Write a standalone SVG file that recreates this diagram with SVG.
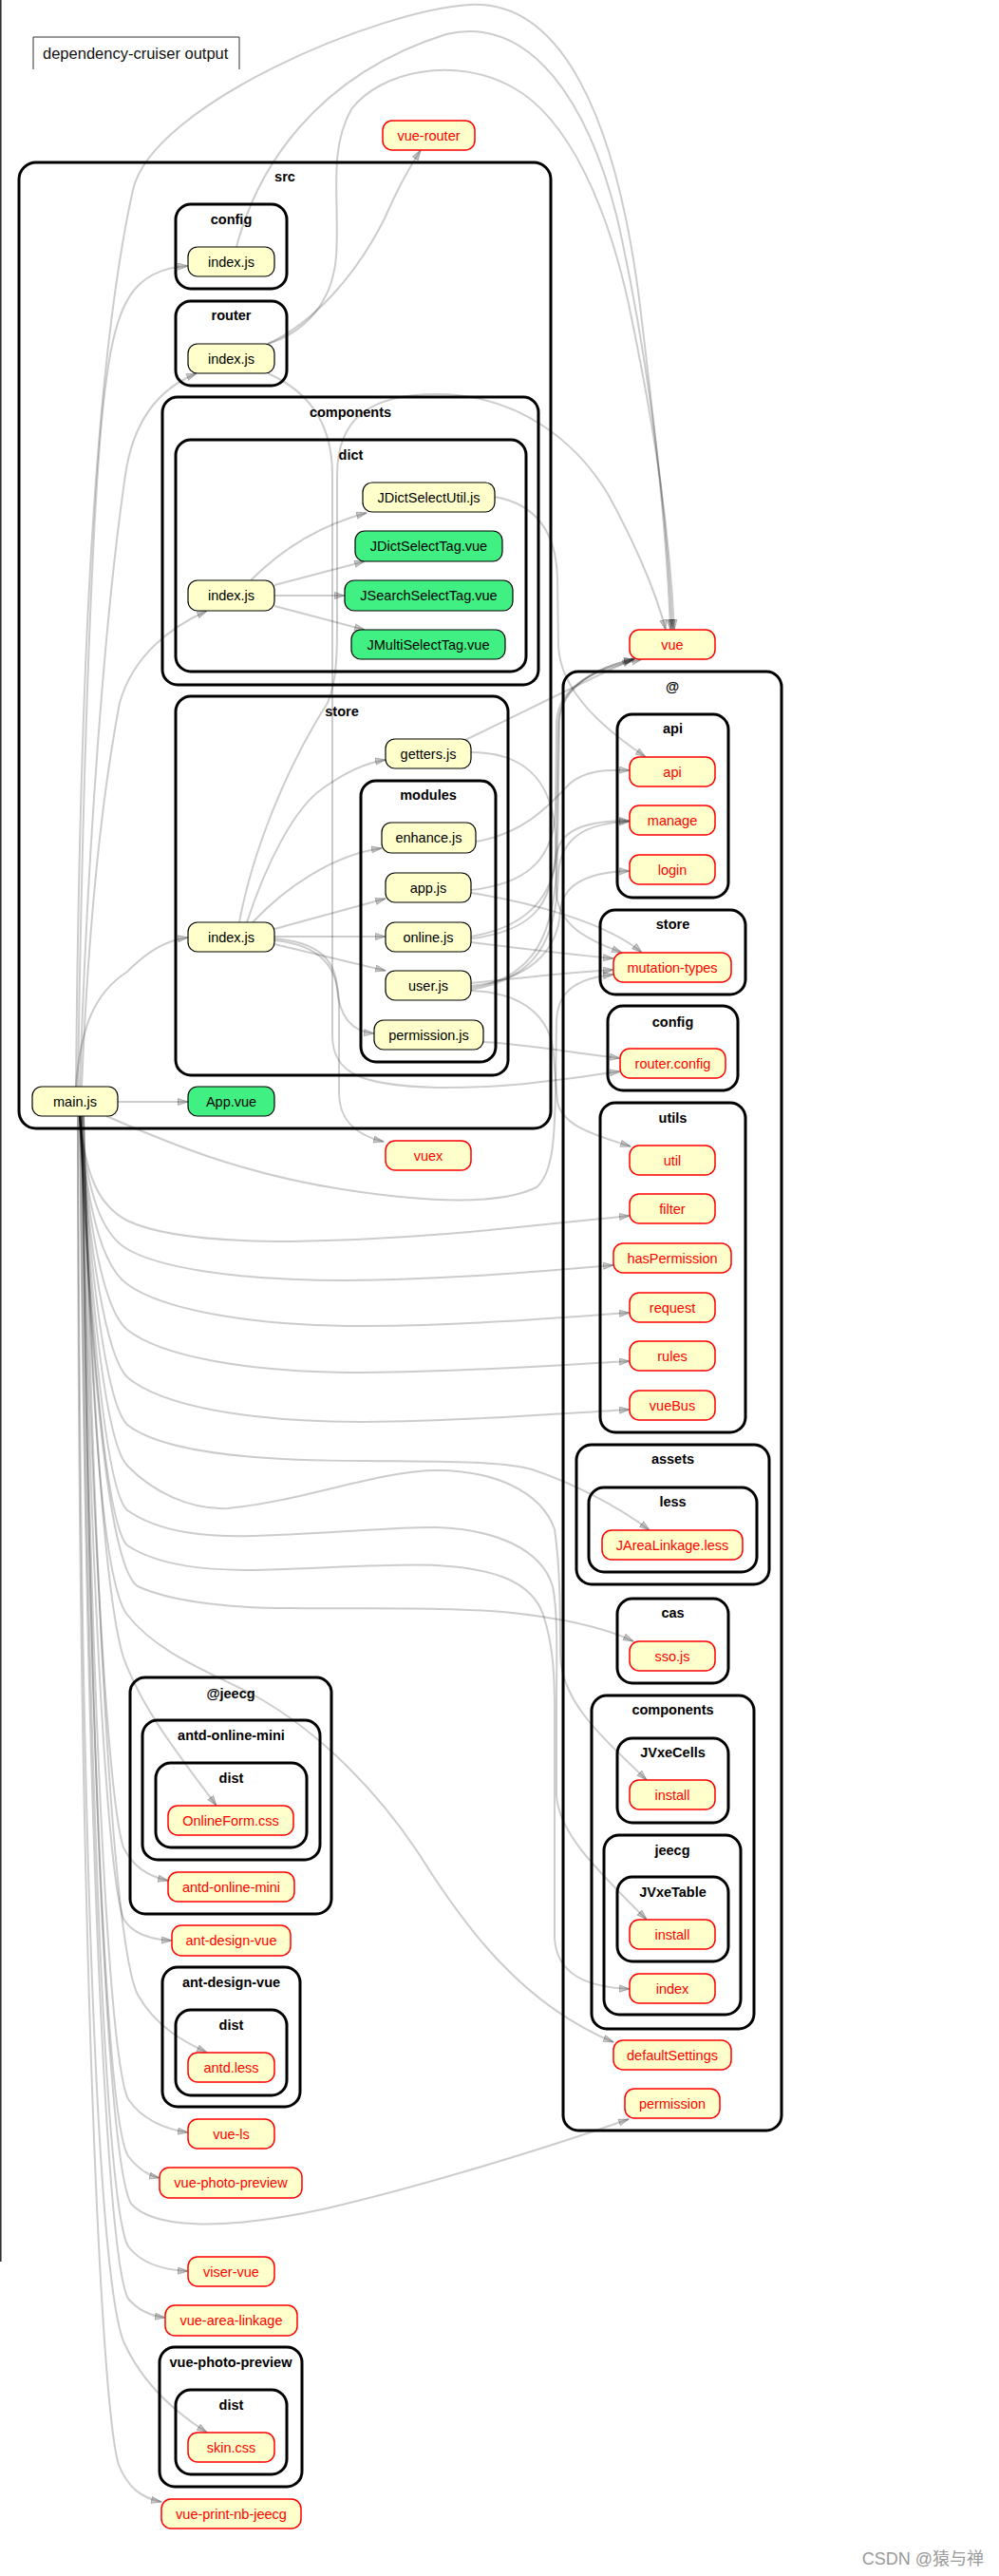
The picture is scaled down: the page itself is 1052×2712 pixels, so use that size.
<svg xmlns="http://www.w3.org/2000/svg" width="1052" height="2712" viewBox="0 0 1052 2712">
<defs>
<style>
.cl rect{fill:none;stroke:#000;stroke-width:3}
.cl text{font-family:"Liberation Sans",Arial,sans-serif;font-weight:bold;font-size:14.5px;text-anchor:middle;fill:#000}
.nd rect{fill:#ffffcc;stroke:#000;stroke-width:1.2}
.nd text{font-family:"Liberation Sans",Arial,sans-serif;font-size:14.5px;text-anchor:middle;fill:#000}
.nd.g rect{fill:#41f083}
.nd.x rect{stroke:#ff0000;stroke-width:1.5}
.nd.x text{fill:#ff0000}
#edges path{fill:none;stroke:#000;stroke-opacity:0.2;stroke-width:2;marker-end:url(#ah)}
</style>
<marker id="ah" markerWidth="12" markerHeight="9" refX="11" refY="4" orient="auto" markerUnits="userSpaceOnUse">
<path d="M0.5,0.5 L11,4 L0.5,7.5 z" fill="#000" fill-opacity="0.2" stroke="#000" stroke-opacity="0.25" stroke-width="1"/>
</marker>
</defs>
<rect x="0" y="0" width="1052" height="2712" fill="#ffffff"/>
<rect x="0" y="0" width="1.6" height="2381" fill="#333333"/>
<g id="title">
<path d="M35,73 V39 H252 V73" fill="none" stroke="#333" stroke-width="1"/>
<text x="45" y="62" font-family="'Liberation Sans',Arial,sans-serif" font-size="16.5" fill="#111">dependency-cruiser output</text>
</g>
<g id="clusters">
<g id="cluster-src" class="cl"><rect x="20" y="171" width="560" height="1017" rx="18"/><text x="300" y="191">src</text></g>
<g id="cluster-src-config" class="cl"><rect x="185" y="215" width="117" height="89" rx="16"/><text x="243.5" y="236">config</text></g>
<g id="cluster-src-router" class="cl"><rect x="185" y="317" width="117" height="89" rx="16"/><text x="243.5" y="337">router</text></g>
<g id="cluster-src-components" class="cl"><rect x="171" y="418" width="396" height="303" rx="16"/><text x="369" y="439">components</text></g>
<g id="cluster-src-components-dict" class="cl"><rect x="185" y="463" width="369" height="244" rx="16"/><text x="369.5" y="484">dict</text></g>
<g id="cluster-src-store" class="cl"><rect x="185" y="733" width="350" height="399" rx="16"/><text x="360" y="754">store</text></g>
<g id="cluster-src-store-modules" class="cl"><rect x="380" y="822" width="142" height="296" rx="16"/><text x="451" y="842">modules</text></g>
<g id="cluster-at" class="cl"><rect x="593" y="707" width="230" height="1536" rx="16"/><text x="708" y="728">@</text></g>
<g id="cluster-at-api" class="cl"><rect x="650" y="752" width="117" height="193" rx="16"/><text x="708.5" y="772">api</text></g>
<g id="cluster-at-store" class="cl"><rect x="632" y="958" width="153" height="89" rx="16"/><text x="708.5" y="978">store</text></g>
<g id="cluster-at-config" class="cl"><rect x="640" y="1059" width="137" height="89" rx="16"/><text x="708.5" y="1081">config</text></g>
<g id="cluster-at-utils" class="cl"><rect x="632" y="1161" width="153" height="347" rx="16"/><text x="708.5" y="1182">utils</text></g>
<g id="cluster-at-assets" class="cl"><rect x="607" y="1521" width="203" height="147" rx="16"/><text x="708.5" y="1541">assets</text></g>
<g id="cluster-at-assets-less" class="cl"><rect x="620" y="1566" width="177" height="89" rx="16"/><text x="708.5" y="1586">less</text></g>
<g id="cluster-at-cas" class="cl"><rect x="650" y="1683" width="117" height="89" rx="16"/><text x="708.5" y="1703">cas</text></g>
<g id="cluster-at-components" class="cl"><rect x="623" y="1785" width="171" height="351" rx="16"/><text x="708.5" y="1805">components</text></g>
<g id="cluster-at-components-JVxeCells" class="cl"><rect x="650" y="1830" width="117" height="89" rx="16"/><text x="708.5" y="1850">JVxeCells</text></g>
<g id="cluster-at-components-jeecg" class="cl"><rect x="636" y="1932" width="144" height="189" rx="16"/><text x="708" y="1953">jeecg</text></g>
<g id="cluster-at-components-jeecg-JVxeTable" class="cl"><rect x="650" y="1976" width="117" height="89" rx="16"/><text x="708.5" y="1997">JVxeTable</text></g>
<g id="cluster-atjeecg" class="cl"><rect x="137" y="1766" width="212" height="249" rx="16"/><text x="243" y="1788">@jeecg</text></g>
<g id="cluster-atjeecg-aom" class="cl"><rect x="150" y="1811" width="187" height="147" rx="16"/><text x="243.5" y="1832">antd-online-mini</text></g>
<g id="cluster-atjeecg-aom-dist" class="cl"><rect x="164" y="1856" width="159" height="89" rx="16"/><text x="243.5" y="1877">dist</text></g>
<g id="cluster-adv" class="cl"><rect x="171" y="2071" width="145" height="147" rx="16"/><text x="243.5" y="2092">ant-design-vue</text></g>
<g id="cluster-adv-dist" class="cl"><rect x="185" y="2116" width="117" height="90" rx="16"/><text x="243.5" y="2137">dist</text></g>
<g id="cluster-vpp" class="cl"><rect x="168" y="2471" width="150" height="147" rx="16"/><text x="243" y="2492">vue-photo-preview</text></g>
<g id="cluster-vpp-dist" class="cl"><rect x="185" y="2516" width="117" height="89" rx="16"/><text x="243.5" y="2537">dist</text></g>
</g>
<g id="edges">
<path d="M80,1144 C84,700 100,380 140,200 C160,110 400,10 495,5 C590,0 650,120 675,330 C690,456 702,560 706,663"/>
<path d="M249,260 C270,180 330,80 470,36 C560,15 620,110 650,230 C675,340 700,500 708,663"/>
<path d="M282,362 C320,350 350,320 354,270 C358,210 345,160 370,115 C400,75 480,58 540,92 C600,125 640,220 662,320 C685,430 704,540 710,663"/>
<path d="M282,362 C330,340 375,290 405,230 C420,195 432,175 443,158"/>
<path d="M82,1144 C88,750 100,480 112,400 C122,320 140,283 198,280"/>
<path d="M84,1144 C92,900 110,650 132,500 C140,445 165,410 207,393"/>
<path d="M86,1144 C92,1000 105,850 126,740 C140,690 180,660 218,643"/>
<path d="M80,1144 C85,1080 100,1045 134,1023 C152,1005 172,990 198,987"/>
<path d="M124,1160 L198,1160"/>
<path d="M264,611 C300,575 340,552 386,540"/>
<path d="M289,616 L384,591"/>
<path d="M289,627 L363,627"/>
<path d="M289,638 L384,663"/>
<path d="M521,523 C560,530 586,555 587,610 L588,680 C590,730 640,770 680,797"/>
<path d="M260,971 C280,910 310,850 340,830 C365,812 385,803 406,800"/>
<path d="M266,971 C300,935 350,900 402,893"/>
<path d="M289,978 L406,946"/>
<path d="M289,986 L406,986"/>
<path d="M289,994 L406,1022"/>
<path d="M289,988 C335,992 353,1010 355,1040 C357,1070 370,1086 394,1088"/>
<path d="M289,990 C340,995 357,1020 357,1060 L357,1150 C357,1180 375,1195 404,1202"/>
<path d="M252,971 C265,900 300,810 345,740 C353,720 355,700 355,660 L355,500 C355,440 390,415 460,415 C550,415 610,470 640,520 C665,565 690,620 701,663"/>
<path d="M282,393 C320,410 350,440 350,500 L350,1090 C350,1130 380,1143 460,1145 C540,1146 600,1135 653,1128"/>
<path d="M490,779 C540,755 610,720 666,694"/>
<path d="M496,792 C550,792 582,820 585,880 L586,940 C588,975 620,990 655,1003"/>
<path d="M501,886 C555,878 585,840 600,825 C615,812 635,810 663,811"/>
<path d="M496,937 C560,930 584,900 585,850 L586,760 C588,722 625,705 676,694"/>
<path d="M496,940 C560,950 640,972 676,1003"/>
<path d="M496,986 C560,975 582,940 586,900 C590,872 620,864 663,864"/>
<path d="M496,988 C565,980 585,950 586,880 L588,760 C590,722 630,702 668,694"/>
<path d="M496,992 C560,1000 600,1005 646,1009"/>
<path d="M496,1040 C565,1030 585,980 587,900 L589,760 C591,722 630,702 668,694"/>
<path d="M496,1042 C565,1030 586,990 588,920 C590,880 620,866 663,865"/>
<path d="M496,1038 C570,1030 588,990 590,960 C592,930 620,918 663,917"/>
<path d="M496,1035 C560,1028 600,1024 646,1021"/>
<path d="M496,1043 C550,1045 580,1070 583,1110 L587,1160 C592,1185 625,1195 664,1207"/>
<path d="M509,1097 C560,1100 600,1108 653,1114"/>
<path d="M112,1175 C170,1200 250,1235 360,1252 C430,1263 520,1272 565,1250 C582,1235 584,1200 585,1150 L586,1075 C587,1045 605,1030 646,1026"/>
<path d="M84,1175 C90,1240 105,1270 134,1285 C165,1300 220,1307 306,1307 C450,1305 560,1290 663,1280"/>
<path d="M84,1175 C92,1260 108,1300 134,1315 C165,1333 240,1348 364,1348 C480,1347 570,1338 646,1332"/>
<path d="M84,1175 C92,1280 110,1335 134,1352 C170,1378 260,1396 383,1396 C500,1395 590,1387 663,1382"/>
<path d="M84,1175 C94,1300 110,1380 134,1400 C170,1428 260,1445 383,1445 C500,1444 590,1437 663,1433"/>
<path d="M84,1175 C94,1320 112,1428 134,1450 C170,1480 260,1497 383,1497 C500,1496 590,1488 663,1484"/>
<path d="M84,1175 C96,1350 112,1478 134,1500 C170,1528 260,1538 383,1538 C470,1539 530,1538 560,1547 C600,1560 650,1585 684,1611"/>
<path d="M84,1175 C96,1380 112,1520 134,1543 C160,1570 200,1590 240,1588 C320,1580 400,1548 460,1548 C520,1548 570,1570 584,1610 C590,1650 590,1700 590,1740 C590,1790 630,1825 681,1874"/>
<path d="M84,1175 C96,1400 112,1570 134,1590 C170,1615 220,1618 268,1617 C360,1614 420,1607 459,1608 C520,1610 570,1630 582,1670 C588,1700 586,1750 586,1800 L586,1890 C588,1930 630,1970 681,2021"/>
<path d="M84,1175 C96,1420 112,1605 134,1627 C170,1650 220,1653 268,1653 C360,1650 420,1646 459,1648 C520,1651 560,1665 572,1700 C582,1730 584,1760 584,1800 L584,2040 C586,2080 620,2092 663,2094"/>
<path d="M84,1175 C96,1440 114,1650 145,1670 C175,1684 230,1693 306,1693 C400,1694 470,1692 530,1697 C580,1702 630,1710 667,1728"/>
<path d="M88,1175 C95,1500 110,1670 134,1700 C165,1740 220,1760 268,1785 C340,1825 400,1890 440,1950 C490,2030 550,2110 646,2150"/>
<path d="M88,1175 C95,1450 110,1680 130,1745 C150,1800 190,1850 228,1901"/>
<path d="M86,1175 C95,1600 115,1900 130,1945 C140,1965 155,1975 177,1980"/>
<path d="M86,1175 C95,1700 115,1980 130,2020 C140,2037 160,2042 181,2043"/>
<path d="M88,1175 C100,1700 120,2050 145,2100 C165,2135 195,2150 218,2161"/>
<path d="M86,1175 C95,1800 115,2170 135,2210 C150,2232 175,2242 198,2245"/>
<path d="M86,1175 C95,1900 115,2240 135,2270 C145,2283 155,2290 168,2293"/>
<path d="M86,1175 C95,1900 115,2280 138,2320 C160,2345 230,2350 344,2325 C450,2300 580,2260 662,2231"/>
<path d="M84,1175 C95,2000 115,2330 135,2365 C150,2385 175,2390 198,2391"/>
<path d="M84,1175 C92,2000 115,2385 135,2420 C145,2432 158,2438 174,2440"/>
<path d="M82,1175 C85,2000 105,2400 130,2465 C150,2510 185,2540 218,2561"/>
<path d="M82,1175 C82,2000 105,2530 125,2595 C135,2620 150,2630 170,2634"/>
</g>
<g id="nodes">
<g id="n-src-config-index" class="nd"><rect x="198" y="260" width="91" height="31" rx="10"/><text x="243.5" y="280.5">index.js</text></g>
<g id="n-src-router-index" class="nd"><rect x="198" y="362" width="91" height="31" rx="10"/><text x="243.5" y="382.5">index.js</text></g>
<g id="n-dict-index" class="nd"><rect x="198" y="611" width="91" height="32" rx="10"/><text x="243.5" y="632">index.js</text></g>
<g id="n-JDictSelectUtil" class="nd"><rect x="382" y="508" width="139" height="31" rx="10"/><text x="451.5" y="528.5">JDictSelectUtil.js</text></g>
<g id="n-JDictSelectTag" class="nd g"><rect x="374" y="559" width="155" height="32" rx="10"/><text x="451.5" y="580">JDictSelectTag.vue</text></g>
<g id="n-JSearchSelectTag" class="nd g"><rect x="363" y="611" width="177" height="32" rx="10"/><text x="451.5" y="632">JSearchSelectTag.vue</text></g>
<g id="n-JMultiSelectTag" class="nd g"><rect x="370" y="663" width="162" height="31" rx="10"/><text x="451" y="683.5">JMultiSelectTag.vue</text></g>
<g id="n-store-index" class="nd"><rect x="198" y="971" width="91" height="31" rx="10"/><text x="243.5" y="991.5">index.js</text></g>
<g id="n-getters" class="nd"><rect x="406" y="778" width="90" height="31" rx="10"/><text x="451" y="798.5">getters.js</text></g>
<g id="n-enhance" class="nd"><rect x="402" y="866" width="99" height="32" rx="10"/><text x="451.5" y="887">enhance.js</text></g>
<g id="n-app" class="nd"><rect x="406" y="919" width="90" height="31" rx="10"/><text x="451" y="939.5">app.js</text></g>
<g id="n-online" class="nd"><rect x="406" y="971" width="90" height="31" rx="10"/><text x="451" y="991.5">online.js</text></g>
<g id="n-user" class="nd"><rect x="406" y="1022" width="90" height="31" rx="10"/><text x="451" y="1042.5">user.js</text></g>
<g id="n-permission-js" class="nd"><rect x="394" y="1074" width="115" height="31" rx="10"/><text x="451.5" y="1094.5">permission.js</text></g>
<g id="n-main" class="nd"><rect x="34" y="1144" width="90" height="31" rx="10"/><text x="79" y="1164.5">main.js</text></g>
<g id="n-App-vue" class="nd g"><rect x="198" y="1144" width="91" height="31" rx="10"/><text x="243.5" y="1164.5">App.vue</text></g>
<g id="n-vue-router" class="nd x"><rect x="403" y="127" width="97" height="31" rx="10"/><text x="451.5" y="147.5">vue-router</text></g>
<g id="n-vue" class="nd x"><rect x="663" y="663" width="90" height="31" rx="10"/><text x="708" y="683.5">vue</text></g>
<g id="n-vuex" class="nd x"><rect x="406" y="1201" width="90" height="31" rx="10"/><text x="451" y="1221.5">vuex</text></g>
<g id="n-api" class="nd x"><rect x="663" y="797" width="90" height="31" rx="10"/><text x="708" y="817.5">api</text></g>
<g id="n-manage" class="nd x"><rect x="663" y="848" width="90" height="31" rx="10"/><text x="708" y="868.5">manage</text></g>
<g id="n-login" class="nd x"><rect x="663" y="900" width="90" height="31" rx="10"/><text x="708" y="920.5">login</text></g>
<g id="n-mutation-types" class="nd x"><rect x="646" y="1003" width="124" height="31" rx="10"/><text x="708" y="1023.5">mutation-types</text></g>
<g id="n-router-config" class="nd x"><rect x="653" y="1104" width="111" height="31" rx="10"/><text x="708.5" y="1124.5">router.config</text></g>
<g id="n-util" class="nd x"><rect x="663" y="1206" width="90" height="31" rx="10"/><text x="708" y="1226.5">util</text></g>
<g id="n-filter" class="nd x"><rect x="663" y="1257" width="90" height="31" rx="10"/><text x="708" y="1277.5">filter</text></g>
<g id="n-hasPermission" class="nd x"><rect x="646" y="1309" width="124" height="31" rx="10"/><text x="708" y="1329.5">hasPermission</text></g>
<g id="n-request" class="nd x"><rect x="663" y="1361" width="90" height="31" rx="10"/><text x="708" y="1381.5">request</text></g>
<g id="n-rules" class="nd x"><rect x="663" y="1412" width="90" height="31" rx="10"/><text x="708" y="1432.5">rules</text></g>
<g id="n-vueBus" class="nd x"><rect x="663" y="1464" width="90" height="31" rx="10"/><text x="708" y="1484.5">vueBus</text></g>
<g id="n-JAreaLinkage" class="nd x"><rect x="634" y="1611" width="148" height="31" rx="10"/><text x="708" y="1631.5">JAreaLinkage.less</text></g>
<g id="n-sso" class="nd x"><rect x="663" y="1728" width="90" height="31" rx="10"/><text x="708" y="1748.5">sso.js</text></g>
<g id="n-JVxeCells-install" class="nd x"><rect x="663" y="1874" width="90" height="31" rx="10"/><text x="708" y="1894.5">install</text></g>
<g id="n-JVxeTable-install" class="nd x"><rect x="663" y="2021" width="90" height="31" rx="10"/><text x="708" y="2041.5">install</text></g>
<g id="n-jeecg-index" class="nd x"><rect x="663" y="2078" width="90" height="31" rx="10"/><text x="708" y="2098.5">index</text></g>
<g id="n-defaultSettings" class="nd x"><rect x="646" y="2148" width="124" height="31" rx="10"/><text x="708" y="2168.5">defaultSettings</text></g>
<g id="n-permission" class="nd x"><rect x="658" y="2199" width="100" height="31" rx="10"/><text x="708" y="2219.5">permission</text></g>
<g id="n-OnlineForm" class="nd x"><rect x="177" y="1901" width="132" height="31" rx="10"/><text x="243" y="1921.5">OnlineForm.css</text></g>
<g id="n-antd-online-mini" class="nd x"><rect x="177" y="1971" width="133" height="31" rx="10"/><text x="243.5" y="1991.5">antd-online-mini</text></g>
<g id="n-ant-design-vue" class="nd x"><rect x="181" y="2027" width="125" height="32" rx="10"/><text x="243.5" y="2048">ant-design-vue</text></g>
<g id="n-antd-less" class="nd x"><rect x="198" y="2161" width="91" height="31" rx="10"/><text x="243.5" y="2181.5">antd.less</text></g>
<g id="n-vue-ls" class="nd x"><rect x="198" y="2231" width="91" height="31" rx="10"/><text x="243.5" y="2251.5">vue-ls</text></g>
<g id="n-vue-photo-preview" class="nd x"><rect x="168" y="2282" width="150" height="32" rx="10"/><text x="243" y="2303">vue-photo-preview</text></g>
<g id="n-viser-vue" class="nd x"><rect x="198" y="2376" width="91" height="31" rx="10"/><text x="243.5" y="2396.5">viser-vue</text></g>
<g id="n-vue-area-linkage" class="nd x"><rect x="174" y="2427" width="139" height="32" rx="10"/><text x="243.5" y="2448">vue-area-linkage</text></g>
<g id="n-skin" class="nd x"><rect x="198" y="2561" width="91" height="31" rx="10"/><text x="243.5" y="2581.5">skin.css</text></g>
<g id="n-vue-print" class="nd x"><rect x="170" y="2631" width="147" height="31" rx="10"/><text x="243.5" y="2651.5">vue-print-nb-jeecg</text></g>
</g>
<text x="1036" y="2700" text-anchor="end" font-family="'Liberation Sans','Noto Sans CJK SC',sans-serif" font-size="18" fill="#999999">CSDN @猿与禅</text>
</svg>
